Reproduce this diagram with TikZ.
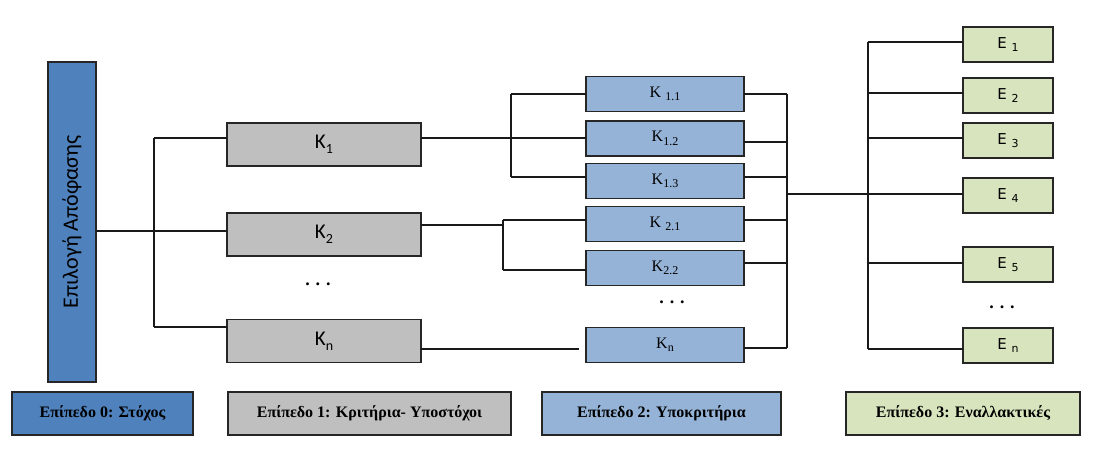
\documentclass[tikz,border=0pt]{standalone}
\usepackage{fontspec}
\setmainfont{Liberation Serif}
\newfontfamily\carlito{Carlito}
\newfontfamily\dejavu{DejaVu Sans}
\definecolor{goalblue}{HTML}{4F81BD}
\definecolor{critgray}{HTML}{BFBFBF}
\definecolor{subblue}{HTML}{95B3D7}
\definecolor{altgreen}{HTML}{D7E4BD}
\definecolor{edge}{HTML}{262626}
\newcommand{\mysub}[2]{\raisebox{-0.22em}{\fontsize{#1}{#1}\selectfont #2}}
\tikzset{
  box/.style={draw=edge, line width=1.4pt, inner sep=0pt, outer sep=0pt},
  goalbox/.style={box, fill=goalblue, minimum width=48pt, minimum height=320pt},
  critbox/.style={box, fill=critgray, minimum width=194pt, minimum height=43pt, font=\carlito\fontsize{21}{23}\selectfont},
  subbox/.style={box, fill=subblue, minimum width=158pt, minimum height=35pt, font=\fontsize{16}{18}\selectfont},
  altbox/.style={box, fill=altgreen, minimum width=90pt, minimum height=35pt, font=\dejavu\fontsize{15}{17}\selectfont},
  legbox/.style={box, minimum height=43pt, font=\bfseries\fontsize{16}{18}\selectfont},
  conn/.style={draw=black!90, line width=1.3pt},
  dots/.style={font=\bfseries\fontsize{18}{18}\selectfont, inner sep=0pt}
}
\begin{document}
\begin{tikzpicture}[x=1pt, y=-1pt]
\useasboundingbox (0,0) rectangle (1104,454);
% Level 0
\node[goalbox] (goal) at (72,222) {\rotatebox{90}{\carlito\fontsize{22}{24}\selectfont Επιλογή Απόφασης}};
% Level 1
\node[critbox] (k1) at (324,144.5) {K\mysub{14}{1}};
\node[critbox] (k2) at (324,234.5) {K\mysub{14}{2}};
\node[critbox] (kn) at (324,341) {K\mysub{14}{n}};
\node[dots] (d1) at (318,284) {.\hspace{6pt}.\hspace{6pt}.};
% Level 2
\node[subbox] (l11) at (665,94) {K \mysub{12}{1.1}};
\node[subbox] (l12) at (665,138.5) {K\mysub{12}{1.2}};
\node[subbox] (l13) at (665,181) {K\mysub{12}{1.3}};
\node[subbox] (l21) at (665,224) {K \mysub{12}{2.1}};
\node[subbox] (l22) at (665,268) {K\mysub{12}{2.2}};
\node[subbox] (l2n) at (665,345) {K\mysub{12}{n}};
\node[dots] (d2) at (672,302) {.\hspace{6pt}.\hspace{6pt}.};
% Level 3
\node[altbox] (e1) at (1008,44.5) {E \mysub{11}{1}};
\node[altbox] (e2) at (1008,95.5) {E \mysub{11}{2}};
\node[altbox] (e3) at (1008,140.5) {E \mysub{11}{3}};
\node[altbox] (e4) at (1008,195.5) {E \mysub{11}{4}};
\node[altbox] (e5) at (1008,264.5) {E \mysub{11}{5}};
\node[altbox] (en) at (1008,345.5) {E \mysub{11}{n}};
\node[dots] (d3) at (1002,307) {.\hspace{6pt}.\hspace{6pt}.};
% Legend
\node[legbox, fill=goalblue, minimum width=181pt] (lg0) at (102.5,413.5) {Επίπεδο 0: Στόχος};
\node[legbox, fill=critgray, minimum width=283pt] (lg1) at (369.5,413.5) {Επίπεδο 1: Κριτήρια- Υποστόχοι};
\node[legbox, fill=subblue, minimum width=239pt] (lg2) at (661.5,413.5) {Επίπεδο 2: Υποκριτήρια};
\node[legbox, fill=altgreen, minimum width=234pt] (lg3) at (963,413.5) {Επίπεδο 3: Εναλλακτικές};
% Connectors level 0 -> 1
\coordinate (b0) at (154,231);
\coordinate (b0t) at (154,138);
\coordinate (b0b) at (154,327);
\draw[conn] (goal.east |- b0) -- (k2.west |- b0);
\draw[conn] (b0t) -- (b0b);
\draw[conn] (b0t) -- (k1.west |- b0t);
\draw[conn] (b0b) -- (kn.west |- b0b);
% Level 1 -> 2
\coordinate (c1m) at (511,138);
\coordinate (c1t) at (511,94);
\coordinate (c1b) at (511,177);
\draw[conn] (k1.east |- c1m) -- (l12.west |- c1m);
\draw[conn] (c1t) -- (c1b);
\draw[conn] (c1t) -- (l11.west |- c1t);
\draw[conn] (c1b) -- (l13.west |- c1b);
\coordinate (c2) at (503,225);
\coordinate (c2t) at (503,220);
\coordinate (c2b) at (503,270);
\draw[conn] (k2.east |- c2) -- (c2);
\draw[conn] (c2t) -- (c2b);
\draw[conn] (c2t) -- (l21.west |- c2t);
\draw[conn] (c2b) -- (l22.west |- c2b);
\coordinate (cnend) at (579,349);
\draw[conn] (kn.east |- cnend) -- (cnend);
% Level 2 -> bus
\coordinate (r1) at (787,94);
\coordinate (r2) at (787,142);
\coordinate (r3) at (787,177);
\coordinate (r4) at (787,220);
\coordinate (r5) at (787,263);
\coordinate (r6) at (787,348);
\coordinate (rm) at (787,194);
\draw[conn] (r1) -- (r6);
\draw[conn] (l11.east |- r1) -- (r1);
\draw[conn] (l12.east |- r2) -- (r2);
\draw[conn] (l13.east |- r3) -- (r3);
\draw[conn] (l21.east |- r4) -- (r4);
\draw[conn] (l22.east |- r5) -- (r5);
\draw[conn] (l2n.east |- r6) -- (r6);
\draw[conn] (rm) -- (e4.west |- rm);
% Level 3 bus
\coordinate (s1) at (868,42);
\coordinate (s2) at (868,93);
\coordinate (s3) at (868,138);
\coordinate (s5) at (868,263);
\coordinate (s6) at (868,349);
\draw[conn] (s1) -- (s6);
\draw[conn] (s1) -- (e1.west |- s1);
\draw[conn] (s2) -- (e2.west |- s2);
\draw[conn] (s3) -- (e3.west |- s3);
\draw[conn] (s5) -- (e5.west |- s5);
\draw[conn] (s6) -- (en.west |- s6);
\end{tikzpicture}
\end{document}
